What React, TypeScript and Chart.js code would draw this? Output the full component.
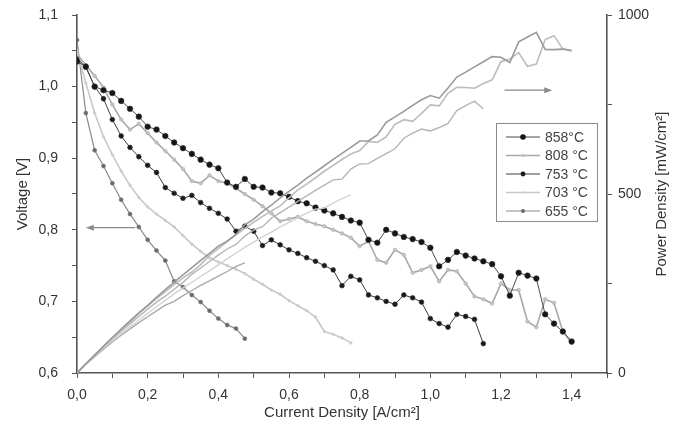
import React, { useEffect, useRef } from 'react';
import { Chart, registerables } from 'chart.js';

Chart.register(...registerables);

const current = [0, 0.025, 0.05, 0.075, 0.1, 0.125, 0.15, 0.175, 0.2, 0.225, 0.25, 0.275, 0.3, 0.325, 0.35, 0.375, 0.4, 0.425, 0.45, 0.475, 0.5, 0.525, 0.55, 0.575, 0.6, 0.625, 0.65, 0.675, 0.7, 0.725, 0.75, 0.775, 0.8, 0.825, 0.85, 0.875, 0.9, 0.925, 0.95, 0.975, 1.0, 1.025, 1.05, 1.075, 1.1, 1.125, 1.15, 1.175, 1.2, 1.225, 1.25, 1.275, 1.3, 1.325, 1.35, 1.375, 1.4];

const v858 = [1.035, 1.028, 1.0, 0.995, 0.991, 0.98, 0.969, 0.958, 0.944, 0.94, 0.931, 0.922, 0.914, 0.906, 0.898, 0.891, 0.886, 0.866, 0.86, 0.871, 0.86, 0.859, 0.852, 0.851, 0.846, 0.84, 0.837, 0.831, 0.827, 0.823, 0.818, 0.813, 0.81, 0.786, 0.782, 0.8, 0.795, 0.79, 0.787, 0.783, 0.775, 0.749, 0.758, 0.769, 0.764, 0.76, 0.756, 0.752, 0.735, 0.708, 0.74, 0.736, 0.732, 0.682, 0.669, 0.658, 0.644];
const p858 = [0, 25.7, 50, 74.6, 99.1, 122.5, 145.4, 167.7, 188.8, 211.5, 232.8, 253.6, 274.2, 294.5, 314.3, 334.1, 354.4, 368.1, 387, 413.7, 430, 451, 468.6, 489.3, 507.6, 525, 544.1, 560.9, 578.9, 596.7, 613.5, 630.1, 648, 648.5, 664.7, 700, 715.5, 730.8, 747.7, 763.4, 775, 767.7, 795.9, 826.7, 840.4, 855, 869.4, 883.6, 882, 867.3, 925, 938.4, 951.6, 903.7, 903.2, 904.8, 901.6];

const v808 = [1.045, 1.03, 1.015, 0.999, 0.975, 0.954, 0.94, 0.948, 0.935, 0.922, 0.91, 0.898, 0.885, 0.868, 0.865, 0.876, 0.868, 0.865, 0.858, 0.85, 0.842, 0.833, 0.823, 0.812, 0.815, 0.818, 0.812, 0.808, 0.805, 0.8, 0.795, 0.789, 0.777, 0.784, 0.758, 0.754, 0.772, 0.765, 0.74, 0.744, 0.749, 0.728, 0.744, 0.742, 0.725, 0.707, 0.703, 0.697, 0.725, 0.716, 0.716, 0.672, 0.664, 0.703, 0.698, 0.658, 0.642];
const p808 = [0, 25.8, 50.8, 74.9, 97.5, 119.3, 141, 165.9, 187, 207.5, 227.5, 247, 265.5, 282.1, 302.8, 328.5, 347.2, 367.6, 386.1, 403.8, 421, 437.3, 452.7, 466.9, 489, 511.3, 527.8, 545.4, 563.5, 580, 596.3, 611.5, 621.6, 646.8, 644.3, 659.8, 694.8, 707.6, 703, 725.4, 749, 746.2, 781.2, 797.7, 797.5, 795.4, 808.5, 819, 870, 877.1, 895, 856.8, 863.2, 931.5, 942.3, 904.8, 898.8];

const v753 = [1.04, 1.027, 1.0, 0.983, 0.954, 0.931, 0.915, 0.902, 0.89, 0.88, 0.859, 0.851, 0.844, 0.848, 0.838, 0.83, 0.823, 0.815, 0.798, 0.805, 0.798, 0.778, 0.786, 0.779, 0.772, 0.767, 0.761, 0.756, 0.75, 0.744, 0.722, 0.735, 0.73, 0.709, 0.705, 0.7, 0.696, 0.709, 0.705, 0.699, 0.676, 0.669, 0.664, 0.682, 0.679, 0.675, 0.641];
const p753 = [0, 25.7, 50, 73.7, 95.4, 116.4, 137.3, 157.9, 178, 198, 214.8, 234, 253.2, 275.6, 293.3, 311.3, 329.2, 346.4, 359.1, 382.4, 399, 408.5, 432.3, 447.9, 463.2, 479.4, 494.7, 510.3, 525, 539.4, 541.5, 569.6, 584, 584.9, 599.3, 612.5, 626.4, 655.8, 669.8, 681.5, 676, 685.7, 697.2, 733.2, 746.9, 759.4, 737.2];

const v703 = [1.05, 1.005, 0.963, 0.93, 0.905, 0.882, 0.862, 0.845, 0.832, 0.822, 0.813, 0.804, 0.792, 0.78, 0.77, 0.761, 0.755, 0.75, 0.745, 0.739, 0.731, 0.724, 0.716, 0.71, 0.701, 0.694, 0.687, 0.678, 0.658, 0.654, 0.649, 0.642];
const p703 = [0, 25.1, 48.2, 69.8, 90.5, 110.3, 129.3, 147.9, 166.4, 185, 203.3, 221.1, 237.6, 253.5, 269.5, 285.4, 302, 318.8, 335.3, 351, 365.5, 380.1, 393.8, 408.3, 420.6, 433.8, 446.6, 457.7, 460.6, 474.2, 486.8, 497.6];

const v655 = [1.065, 0.963, 0.911, 0.889, 0.865, 0.842, 0.822, 0.804, 0.786, 0.771, 0.757, 0.728, 0.72, 0.709, 0.699, 0.687, 0.676, 0.667, 0.662, 0.648];
const p655 = [0, 24.1, 45.6, 66.7, 86.5, 105.3, 123.3, 140.7, 157.2, 173.5, 189.3, 200.2, 216, 230.4, 244.7, 257.6, 270.4, 283.5, 297.9, 307.8];

const seriesLabels = ['858°C', '808 °C', '753 °C', '703 °C', '655 °C'];

// annotation arrows (data coordinates)
const leftArrow = { from: 0.165, to: 0.025, voltage: 0.803 };
const rightArrow = { from: 1.21, to: 1.345, power: 790 };

const FONT = "'Liberation Sans', Arial, Helvetica, sans-serif";

const styles = [
  { line: '#4a4a4a', point: '#151515', pointBorder: '#333', radius: 2.8, width: 1, power: '#9a9a9a', powerWidth: 1.6 },
  { line: '#a8a8a8', point: '#c4c4c4', pointBorder: '#b0b0b0', radius: 1.8, width: 1.6, power: '#bdbdbd', powerWidth: 1.6 },
  { line: '#3c3c3c', point: '#1a1a1a', pointBorder: '#333', radius: 2.4, width: 1, power: '#b5b5b5', powerWidth: 1.4 },
  { line: '#c8c8c8', point: '#cfcfcf', pointBorder: '#c8c8c8', radius: 1.3, width: 1.6, power: '#d2d2d2', powerWidth: 1.4 },
  { line: '#8a8a8a', point: '#6a6a6a', pointBorder: '#777', radius: 2.0, width: 1.2, power: '#a9a9a9', powerWidth: 1.4 },
];

function toXY(xs: number[], ys: number[]) {
  return ys.map((y, i) => ({ x: xs[i], y }));
}

export default function App() {
  const ref = useRef<HTMLCanvasElement | null>(null);

  useEffect(() => {
    if (!ref.current) return;
    const volt = [v858, v808, v753, v703, v655];
    const pow = [p858, p808, p753, p703, p655];

    const datasets: any[] = [];
    pow.forEach((p, i) => {
      datasets.push({
        label: seriesLabels[i] + ' P',
        data: toXY(current, p),
        yAxisID: 'y2',
        borderColor: styles[i].power,
        borderWidth: styles[i].powerWidth,
        pointRadius: 0,
        fill: false,
        tension: 0,
      });
    });
    volt.forEach((v, i) => {
      datasets.push({
        label: seriesLabels[i],
        data: toXY(current, v),
        yAxisID: 'y',
        borderColor: styles[i].line,
        borderWidth: styles[i].width,
        pointRadius: styles[i].radius,
        pointBackgroundColor: styles[i].point,
        pointBorderColor: styles[i].pointBorder,
        pointBorderWidth: 0.6,
        fill: false,
        tension: 0,
      });
    });

    const arrowHead = (ctx: CanvasRenderingContext2D, x: number, y: number, dir: number) => {
      ctx.beginPath();
      ctx.moveTo(x, y);
      ctx.lineTo(x - dir * 8, y - 3);
      ctx.lineTo(x - dir * 8, y + 3);
      ctx.closePath();
      ctx.fill();
    };

    const overlay = {
      id: 'overlay',
      afterDatasetsDraw(chart: any) {
        const ctx: CanvasRenderingContext2D = chart.ctx;
        const xs = chart.scales.x;
        const ys = chart.scales.y;
        const y2 = chart.scales.y2;
        const area = chart.chartArea;
        ctx.save();
        // arrows
        ctx.strokeStyle = '#8a8a8a';
        ctx.fillStyle = '#8a8a8a';
        ctx.lineWidth = 1.2;
        const ly = ys.getPixelForValue(leftArrow.voltage);
        const lx1 = xs.getPixelForValue(leftArrow.from);
        const lx2 = xs.getPixelForValue(leftArrow.to);
        ctx.beginPath();
        ctx.moveTo(lx1, ly);
        ctx.lineTo(lx2 + 6, ly);
        ctx.stroke();
        arrowHead(ctx, lx2, ly, -1);
        const ry = y2.getPixelForValue(rightArrow.power);
        const rx1 = xs.getPixelForValue(rightArrow.from);
        const rx2 = xs.getPixelForValue(rightArrow.to);
        ctx.beginPath();
        ctx.moveTo(rx1, ry);
        ctx.lineTo(rx2 - 6, ry);
        ctx.stroke();
        arrowHead(ctx, rx2, ry, 1);

        // legend
        const bx = area.right - 111;
        const by = area.top + 108;
        const bw = 101;
        const bh = 98;
        ctx.fillStyle = '#ffffff';
        ctx.fillRect(bx, by, bw, bh);
        ctx.strokeStyle = '#8c8c8c';
        ctx.lineWidth = 1;
        ctx.strokeRect(bx + 0.5, by + 0.5, bw, bh);
        ctx.font = `14px ${FONT}`;
        ctx.textBaseline = 'middle';
        ctx.textAlign = 'left';
        seriesLabels.forEach((lab, i) => {
          const yy = by + 14 + i * 18.5;
          const s = styles[i];
          ctx.strokeStyle = s.line;
          ctx.lineWidth = s.width;
          ctx.beginPath();
          ctx.moveTo(bx + 10, yy);
          ctx.lineTo(bx + 44, yy);
          ctx.stroke();
          ctx.beginPath();
          ctx.fillStyle = s.point;
          ctx.arc(bx + 27, yy, s.radius, 0, Math.PI * 2);
          ctx.fill();
          ctx.fillStyle = '#444';
          ctx.fillText(lab, bx + 49, yy + 1);
        });

        // right axis title (reads bottom to top)
        ctx.save();
        ctx.translate(662, (area.top + area.bottom) / 2);
        ctx.rotate(-Math.PI / 2);
        ctx.textAlign = 'center';
        ctx.textBaseline = 'middle';
        ctx.fillStyle = '#333';
        ctx.font = `15px ${FONT}`;
        ctx.fillText('Power Density [mW/cm²]', 0, 0);
        ctx.restore();
        ctx.restore();
      },
    };

    const tickFont = { family: FONT, size: 14 };
    const axisColor = '#555';

    const chart = new Chart(ref.current, {
      type: 'line',
      data: { datasets },
      options: {
        animation: false,
        responsive: false,
        maintainAspectRatio: false,
        layout: { padding: { top: 15, left: 0, right: 0, bottom: 0 } },
        plugins: { legend: { display: false }, tooltip: { enabled: false } },
        scales: {
          x: {
            type: 'linear',
            min: 0,
            max: 1.5,
            ticks: {
              stepSize: 0.1,
              autoSkip: false,
              maxRotation: 0,
              color: '#333',
              font: tickFont,
              padding: 9,
              callback: (v: any) => {
                const k = Math.round(Number(v) * 10);
                return k % 2 === 0 && k <= 14 ? (k / 10).toFixed(1).replace('.', ',') : '';
              },
            },
            grid: { drawOnChartArea: false, drawTicks: true, tickLength: 5, color: axisColor },
            border: { display: true, color: axisColor, width: 1.6 },
            title: { display: true, text: 'Current Density [A/cm²]', color: '#333', font: { family: FONT, size: 15 }, padding: { top: 4, bottom: 14 } },
            afterFit: (s: any) => { s.height = 63; s.paddingLeft = 0; s.paddingRight = 0; },
          },
          y: {
            type: 'linear',
            position: 'left',
            min: 0.6,
            max: 1.1,
            ticks: {
              stepSize: 0.05,
              autoSkip: false,
              color: '#333',
              font: tickFont,
              padding: 14,
              callback: (v: any) => {
                const k = Math.round(Number(v) * 100);
                return k % 10 === 0 ? (k / 100).toFixed(1).replace('.', ',') : '';
              },
            },
            grid: { drawOnChartArea: false, drawTicks: true, tickLength: 5, color: axisColor },
            border: { display: true, color: axisColor, width: 1.6 },
            title: { display: true, text: 'Voltage [V]', color: '#333', font: { family: FONT, size: 15 }, padding: { top: 14, bottom: 6 } },
            afterFit: (s: any) => { s.width = 77; s.paddingTop = 0; s.paddingBottom = 0; },
          },
          y2: {
            type: 'linear',
            position: 'right',
            min: 0,
            max: 1000,
            ticks: {
              stepSize: 250,
              autoSkip: false,
              color: '#333',
              font: tickFont,
              padding: 6,
              callback: (v: any) => (Math.round(Number(v)) % 500 === 0 ? String(Math.round(Number(v))) : ''),
            },
            grid: { drawOnChartArea: false, drawTicks: true, tickLength: 5, color: axisColor },
            border: { display: true, color: axisColor, width: 1.6 },
            afterFit: (s: any) => { s.width = 68; s.paddingTop = 0; s.paddingBottom = 0; },
          },
        },
      } as any,
      plugins: [overlay],
    });
    return () => chart.destroy();
  }, []);

  return (
    <div style={{ position: 'absolute', left: 0, top: 0, width: 675, height: 436, background: '#fff' }}>
      <canvas ref={ref} width={675} height={436} style={{ display: 'block' }} />
    </div>
  );
}
